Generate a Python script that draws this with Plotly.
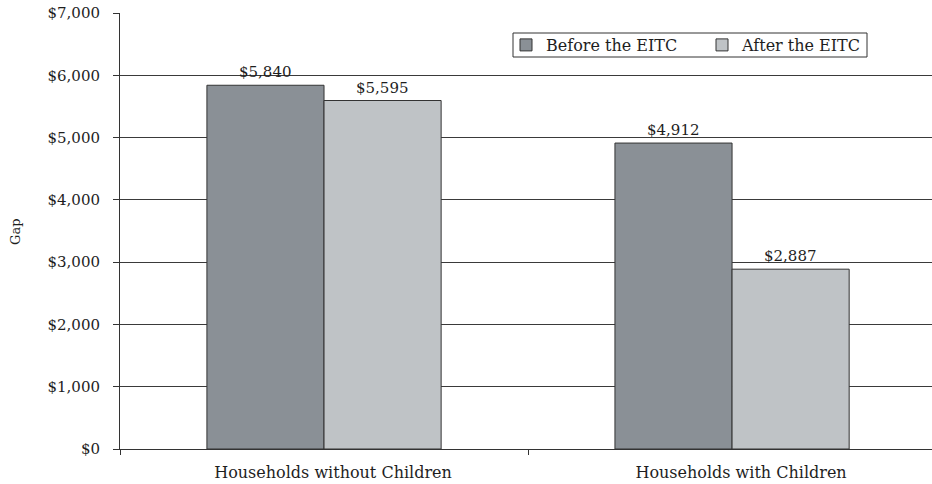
import plotly.graph_objects as go

categories = ["Households without Children", "Households with Children"]
before_eitc = [5840, 4912]
after_eitc = [5595, 2887]
series_names = ["Before the EITC", "After the EITC"]
y_ticks = [0, 1000, 2000, 3000, 4000, 5000, 6000, 7000]

FONT = "DejaVu Serif"
EDGE = "#333333"
TEXT = "#1e1e1e"

fig = go.Figure()
series = [
    (series_names[0], before_eitc, "#8a9096", -58.5),
    (series_names[1], after_eitc, "#bfc3c6", 58.5),
]
for name, vals, color, _ in series:
    fig.add_trace(go.Bar(
        name=name, x=categories, y=vals,
        marker=dict(color=color, line=dict(color=EDGE, width=1)),
        hoverinfo="x+y",
    ))

# value labels above each bar, offset to the bar's slot within its group
for name, vals, color, shift in series:
    for cat, v in zip(categories, vals):
        fig.add_annotation(
            x=cat, y=v, text=f"${v:,}", showarrow=False,
            xanchor="center", yanchor="bottom", xshift=shift, yshift=2,
            font=dict(family=FONT, size=15, color=TEXT),
        )

# y-axis title
fig.add_annotation(
    xref="paper", yref="paper", x=(16 - 120) / 812, y=(449 - 232) / 436,
    text="Gap", textangle=-90, showarrow=False,
    xanchor="center", yanchor="middle",
    font=dict(family=FONT, size=13, color=TEXT),
)

# legend frame
fig.add_shape(
    type="rect", xref="paper", yref="paper",
    x0=(513 - 120) / 812, x1=(867 - 120) / 812,
    y0=(449 - 57) / 436, y1=(449 - 33) / 436,
    line=dict(color=EDGE, width=1), fillcolor="white", layer="above",
)

fig.update_layout(
    width=932, height=484,
    margin=dict(l=120, r=0, t=13, b=35, autoexpand=False),
    paper_bgcolor="white", plot_bgcolor="white",
    font=dict(family=FONT, size=15, color=TEXT),
    barmode="group", bargap=0.426, bargroupgap=0,
    showlegend=True,
    legend=dict(
        orientation="h", x=(506 - 120) / 812, y=(449 - 28) / 436,
        xanchor="left", yanchor="top",
        bgcolor="rgba(0,0,0,0)", borderwidth=0,
        font=dict(family=FONT, size=16, color=TEXT),
        itemwidth=30, entrywidthmode="pixels", entrywidth=151,
        tracegroupgap=0,
    ),
    xaxis=dict(
        range=[-0.5, 1.49], showline=True, linecolor=EDGE, linewidth=1,
        ticks="outside", tickson="boundaries", ticklen=5, tickcolor=EDGE,
        showgrid=False, tickfont=dict(family=FONT, size=16, color=TEXT),
        ticklabelstandoff=9, ticklabelshift=9,
    ),
    yaxis=dict(
        range=[0, 7000], tickvals=y_ticks,
        ticktext=[f"${v:,}" for v in y_ticks],
        showline=True, linecolor=EDGE, linewidth=1,
        ticks="outside", ticklen=6, tickcolor=EDGE,
        showgrid=True, gridcolor="#3a3a3a", gridwidth=1,
        zeroline=False, ticklabelstandoff=10,
        tickfont=dict(family=FONT, size=15, color=TEXT),
    ),
)

fig.write_html("out.html")
